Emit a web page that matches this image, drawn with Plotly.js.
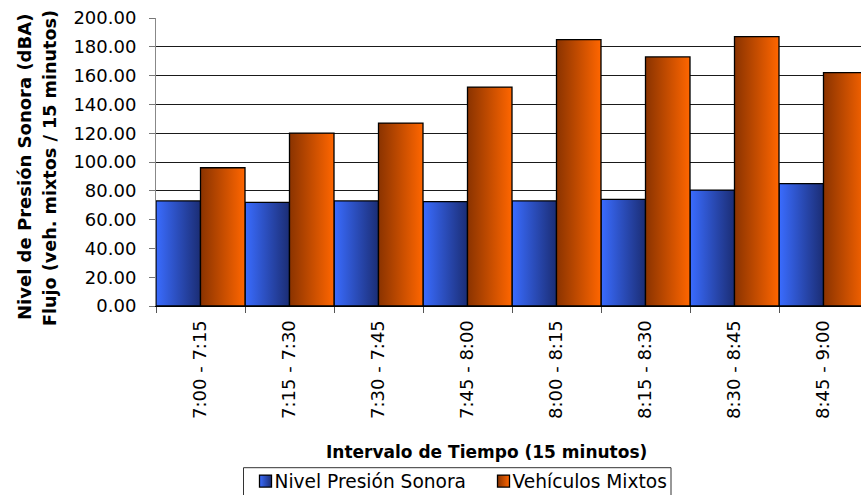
<!DOCTYPE html>
<html>
<head>
<meta charset="utf-8">
<script src="https://cdn.plot.ly/plotly-3.0.1.min.js"></script>
<style>
html,body{margin:0;padding:0;background:#fff;overflow:hidden;width:861px;height:495px;}
#chart{width:872px;height:495px;}
</style>
</head>
<body>
<div id="chart"></div>
<script>
var categories = ["7:00 - 7:15","7:15 - 7:30","7:30 - 7:45","7:45 - 8:00","8:00 - 8:15","8:15 - 8:30","8:30 - 8:45","8:45 - 9:00"];
var nivelPresion = [73.0, 72.0, 73.0, 72.5, 73.0, 74.0, 80.5, 85.0];
var vehiculosMixtos = [96, 120, 127, 152, 185, 173, 187, 162];
var seriesNames = ["Nivel Presión Sonora", "Vehículos Mixtos"];
var yTickVals = [0,20,40,60,80,100,120,140,160,180,200];
var yTickText = yTickVals.map(function(v){return v.toFixed(2);});

var FONT = "DejaVu Sans";
var data = [
  {type:"bar", name:seriesNames[0], x:categories, y:nivelPresion,
   marker:{color:"#2a4fc0", line:{color:"#000", width:1.3}}},
  {type:"bar", name:seriesNames[1], x:categories, y:vehiculosMixtos,
   marker:{color:"#c44d00", line:{color:"#000", width:1.3}}}
];

var W=872, H=495;
var L=156, T=18, PW=712, PH=288;
function px2x(px){return (px-L)/PW;}
function py2y(py){return (T+PH-py)/PH;}

var layout = {
  width:W, height:H,
  margin:{l:L, r:W-L-PW, t:T, b:H-T-PH, pad:0, autoexpand:false},
  paper_bgcolor:"#fff", plot_bgcolor:"#fff",
  barmode:"group", bargap:0, bargroupgap:0,
  showlegend:true,
  font:{family:FONT, color:"#000"},
  xaxis:{type:"category", range:[-0.5,7.5], tickson:"boundaries", ticks:"outside", ticklen:6, tickcolor:"#555", tickwidth:1,
         tickangle:-90, tickfont:{family:FONT, size:18, color:"#000"}, ticklabelstandoff:6, automargin:false,
         showline:true, linecolor:"#000", linewidth:1, showgrid:false, fixedrange:true},
  yaxis:{range:[0,200], tickvals:yTickVals, ticktext:yTickText, ticks:"outside", ticklen:6, tickcolor:"#777",
         tickfont:{family:FONT, size:18, color:"#000"}, ticklabelstandoff:9, automargin:false,
         showline:true, linecolor:"#888", linewidth:1, showgrid:true, gridcolor:"#1a1a1a", gridwidth:1,
         zeroline:true, zerolinecolor:"#000", zerolinewidth:1, fixedrange:true},
  legend:{orientation:"h", xref:"container", yref:"container", x:243.5/W, y:1-462.5/H, xanchor:"left", yanchor:"top",
          borderwidth:0, bgcolor:"rgba(0,0,0,0)", font:{family:FONT, size:18.6, color:"#000"},
          itemwidth:30, traceorder:"normal", indentation:-9, entrywidth:202},
  shapes:[
    {type:"rect", xref:"paper", yref:"paper", x0:px2x(243.5), x1:px2x(671), y0:py2y(467.7), y1:py2y(502),
     line:{color:"#333", width:1}, fillcolor:"rgba(0,0,0,0)", layer:"above"}
  ],
  annotations:[
    {text:"<b>Intervalo de Tiempo (15 minutos)</b>", xref:"paper", yref:"paper", x:px2x(486), y:py2y(452),
     xanchor:"center", yanchor:"middle", showarrow:false, font:{family:FONT, size:17, color:"#000"}},
    {text:"<b>Nivel de Presión Sonora (dBA)</b>", xref:"paper", yref:"paper",
     x:px2x(24), y:py2y(167), xanchor:"center", yanchor:"middle", textangle:-90, showarrow:false,
     font:{family:FONT, size:18, color:"#000"}},
    {text:"<b>Flujo (veh. mixtos / 15 minutos)</b>", xref:"paper", yref:"paper",
     x:px2x(50), y:py2y(168), xanchor:"center", yanchor:"middle", textangle:-90, showarrow:false,
     font:{family:FONT, size:17.6, color:"#000"}}
  ]
};

Plotly.newPlot("chart", data, layout, {displayModeBar:false, staticPlot:true}).then(function(gd){
  var NS="http://www.w3.org/2000/svg";
  var svg=gd.querySelector("svg.main-svg");
  var defs=svg.querySelector("defs");
  function grad(id,c1,c2){
    var g=document.createElementNS(NS,"linearGradient");
    g.setAttribute("id",id);g.setAttribute("x1","0");g.setAttribute("x2","1");g.setAttribute("y1","0");g.setAttribute("y2","0");
    [["0",c1],["1",c2]].forEach(function(s){var st=document.createElementNS(NS,"stop");st.setAttribute("offset",s[0]);st.setAttribute("stop-color",s[1]);g.appendChild(st);});
    defs.appendChild(g);
  }
  grad("gBlue","#3a6cff","#1b2d74");
  grad("gOrange","#8a3300","#ff6600");
  var ids=["gBlue","gOrange"];
  gd.querySelectorAll(".barlayer .trace").forEach(function(t,i){
    t.querySelectorAll("path").forEach(function(p){p.style.fill="url(#"+ids[i]+")";});
  });
  gd.querySelectorAll(".legend .traces").forEach(function(t,i){
    t.querySelectorAll(".legendpoints path").forEach(function(p){
      p.style.fill="url(#"+ids[i]+")";
      p.setAttribute("transform",(p.getAttribute("transform")||"")+" translate(11,0)");
    });
  });
});
</script>
</body>
</html>
